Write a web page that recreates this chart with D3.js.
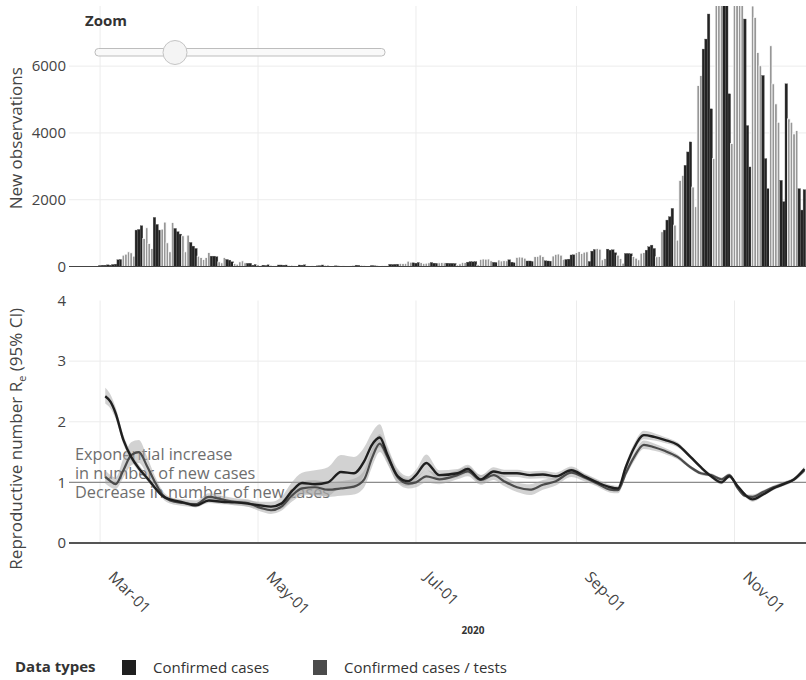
<!DOCTYPE html>
<html>
<head>
<meta charset="utf-8">
<script src="https://cdn.jsdelivr.net/npm/d3@7"></script>
<style>
  html, body { margin: 0; padding: 0; background: #fff; }
  svg { display: block; font-family: "Open Sans", sans-serif; }
</style>
</head>
<body>
<svg id="chart" width="806" height="680"></svg>
<script>
// ---------------- DATA ----------------
const barStart = "2020-03-01";
const barValues = [
  30, 40, 40, 50, 40, 60, 70,
  200, 210, 340, 370, 440, 410, 310,
  1090, 1110, 1220, 840, 1160, 690, 540,
  1470, 1260, 1090, 1120, 1330, 710, 440,
  1320, 1140, 1040, 970, 920, 440, 940,
  720, 610, 540, 310, 270, 210, 270,
  420, 310, 310, 290, 140, 110, 270,
  210, 190, 140, 90, 70, 140, 170,
  110, 95, 97, 40, 60, 55, 30,
  40, 30, 50, 40, 30, 20, 45,
  45, 40, 45, 35, 40, 20, 15,
  45, 40, 50, 30, 15, 20, 15,
  20, 25, 45, 40, 45, 15, 10,
  20, 15, 10, 20, 15, 10, 20,
  15, 40, 35, 40, 35, 15, 10,
  30, 20, 15, 15, 30, 20, 25,
  65, 60, 65, 70, 95, 90, 95,
  160, 130, 110, 100, 120, 115, 95,
  100, 110, 120, 100, 95, 110, 120,
  110, 100, 95, 95, 90, 45, 80,
  125, 120, 130, 145, 140, 145, 50,
  215, 225, 220, 225, 170, 125, 120,
  195, 165, 175, 170, 200, 130, 110,
  275, 285, 280, 250, 165, 165, 150,
  295, 305, 345, 295, 170, 165, 160,
  315, 365, 375, 340, 215, 210, 220,
  345, 350, 420, 445, 390, 430, 440,
  150, 460, 510, 540, 520, 200, 240,
  520, 490, 500, 410, 340, 240, 100,
  390, 390, 380, 300, 250, 200, 400,
  420, 490, 590, 640, 540, 290, 300,
  1040, 1090, 1390, 1490, 1740, 1240, 790,
  2580, 2730, 3030, 3430, 3730, 2380, 1790,
  5420, 5720, 6510, 6810, 7560, 4720, 3230,
  8100, 8600, 9400, 9000, 8800, 5170, 3680,
  10100, 9500, 9800, 8500, 7410, 4220, 2980,
  7800, 7460, 6410, 6010, 5720, 3230, 2330,
  6610, 5470, 4870, 4320, 2580, 1940, 5470,
  4420, 4320, 3970, 4070, 2330, 1690, 2300
];
// 0 = dark bar, 1 = light bar
const barShade = [
  0,0,0,0,0,0,0,
  0,0,1,1,1,1,1,
  0,0,0,1,1,1,1,
  0,0,0,1,1,1,1,
  1,0,0,0,1,1,1,
  0,0,0,1,1,1,1,
  1,0,0,0,1,1,1,
  0,0,0,1,1,1,1,
  1,0,0,0,0,1,1,
  0,0,0,1,1,1,0,
  0,0,0,1,1,1,1,
  0,0,0,1,1,1,1,
  0,0,0,1,1,1,1,
  0,0,0,1,1,1,1,
  0,0,0,1,1,1,1,
  0,0,0,1,1,1,1,
  0,0,0,0,1,1,1,
  1,1,0,0,0,1,1,
  1,1,0,0,0,1,1,
  1,0,0,0,0,1,1,
  1,1,0,0,0,0,1,
  1,1,1,1,1,0,0,
  1,1,1,1,0,0,0,
  1,1,1,1,0,0,0,
  1,1,1,1,0,0,0,
  1,1,1,1,1,0,0,
  0,0,1,1,1,1,1,
  0,0,0,1,1,1,1,
  0,0,0,0,1,1,1,
  0,0,0,1,1,1,1,
  1,0,0,0,0,1,1,
  1,0,0,0,0,1,1,
  1,1,0,0,0,1,1,
  1,1,0,0,0,0,1,
  1,1,1,0,0,0,1,
  1,1,1,1,0,0,0,
  1,1,1,1,0,0,0,
  1,1,1,1,0,0,0,
  1,1,1,1,0,0,0
];

const reDates = [
  "2020-03-03","2020-03-05","2020-03-07","2020-03-10","2020-03-13","2020-03-16","2020-03-19",
  "2020-03-22","2020-03-25","2020-03-28","2020-04-02","2020-04-07","2020-04-12","2020-04-17",
  "2020-04-22","2020-04-27","2020-05-02","2020-05-06","2020-05-10","2020-05-14","2020-05-18",
  "2020-05-23","2020-05-28","2020-06-02","2020-06-07","2020-06-11","2020-06-14","2020-06-17",
  "2020-06-20","2020-06-24","2020-06-28","2020-07-01","2020-07-05","2020-07-10","2020-07-17",
  "2020-07-21","2020-07-26","2020-07-31","2020-08-04","2020-08-09","2020-08-14","2020-08-19",
  "2020-08-24","2020-08-30","2020-09-04","2020-09-09","2020-09-14","2020-09-17","2020-09-20",
  "2020-09-23","2020-09-27","2020-10-01","2020-10-05","2020-10-10","2020-10-15","2020-10-19",
  "2020-10-23","2020-10-27","2020-10-30","2020-11-02","2020-11-05","2020-11-08","2020-11-12",
  "2020-11-16","2020-11-20","2020-11-24","2020-11-28"
];
const reCases = [
  2.42,2.33,2.14,1.70,1.42,1.23,1.08,
  0.92,0.78,0.72,0.67,0.62,0.70,0.68,
  0.67,0.65,0.62,0.60,0.65,0.85,0.99,
  0.97,1.00,1.17,1.15,1.35,1.62,1.74,
  1.45,1.10,1.02,1.12,1.32,1.12,1.15,
  1.22,1.05,1.18,1.15,1.15,1.12,1.13,
  1.10,1.20,1.10,1.00,0.92,0.90,1.25,
  1.55,1.78,1.75,1.70,1.62,1.42,1.25,
  1.10,1.00,1.10,0.95,0.80,0.72,0.80,
  0.90,0.97,1.05,1.22
];
const reCasesLow = [
  2.30,2.22,2.05,1.63,1.36,1.18,1.04,
  0.88,0.75,0.69,0.64,0.59,0.66,0.64,
  0.63,0.60,0.56,0.53,0.56,0.72,0.82,
  0.78,0.78,0.92,0.90,1.12,1.42,1.58,
  1.32,1.00,0.94,1.03,1.20,1.04,1.08,
  1.15,0.98,1.11,1.09,1.09,1.06,1.07,
  1.04,1.14,1.05,0.95,0.88,0.86,1.19,
  1.48,1.71,1.69,1.65,1.58,1.39,1.22,
  1.07,0.97,1.07,0.92,0.77,0.68,0.77,
  0.87,0.94,1.02,1.18
];
const reCasesHigh = [
  2.56,2.45,2.24,1.78,1.49,1.29,1.13,
  0.96,0.81,0.75,0.70,0.66,0.74,0.72,
  0.71,0.70,0.68,0.68,0.76,1.00,1.16,
  1.20,1.25,1.45,1.42,1.58,1.82,1.96,
  1.60,1.22,1.10,1.21,1.46,1.20,1.22,
  1.29,1.12,1.25,1.21,1.21,1.18,1.19,
  1.16,1.26,1.15,1.05,0.96,0.94,1.31,
  1.62,1.85,1.81,1.75,1.66,1.45,1.28,
  1.13,1.03,1.13,0.98,0.83,0.76,0.83,
  0.93,1.00,1.08,1.26
];
const reTests = [
  1.09,1.02,0.97,1.20,1.45,1.50,1.28,
  1.02,0.80,0.70,0.66,0.64,0.76,0.72,
  0.68,0.66,0.58,0.54,0.60,0.78,0.90,
  0.92,0.88,0.90,0.93,1.05,1.40,1.64,
  1.42,1.08,0.98,1.00,1.10,1.05,1.12,
  1.18,1.04,1.12,1.02,0.92,0.88,0.96,
  1.02,1.16,1.08,0.98,0.88,0.87,1.15,
  1.40,1.62,1.58,1.52,1.42,1.25,1.15,
  1.12,1.05,1.12,0.92,0.78,0.76,0.84,
  0.92,0.98,1.05,1.20
];
const reTestsLow = [
  0.98,0.92,0.89,1.08,1.28,1.32,1.14,
  0.93,0.74,0.65,0.61,0.59,0.70,0.66,
  0.62,0.60,0.52,0.48,0.53,0.68,0.78,
  0.80,0.76,0.78,0.80,0.92,1.25,1.50,
  1.30,0.98,0.90,0.92,1.00,0.97,1.05,
  1.10,0.96,1.04,0.94,0.84,0.79,0.88,
  0.95,1.09,1.02,0.93,0.83,0.82,1.09,
  1.33,1.55,1.52,1.47,1.38,1.22,1.12,
  1.09,1.02,1.09,0.89,0.75,0.72,0.81,
  0.89,0.95,1.02,1.16
];
const reTestsHigh = [
  1.20,1.12,1.08,1.40,1.66,1.70,1.44,
  1.12,0.87,0.76,0.72,0.70,0.82,0.78,
  0.74,0.72,0.65,0.61,0.68,0.88,1.02,
  1.04,1.00,1.02,1.06,1.20,1.55,1.80,
  1.55,1.18,1.06,1.08,1.20,1.13,1.20,
  1.26,1.12,1.20,1.10,1.00,0.97,1.04,
  1.09,1.23,1.14,1.04,0.93,0.92,1.21,
  1.47,1.69,1.64,1.57,1.46,1.28,1.18,
  1.15,1.08,1.15,0.95,0.81,0.80,0.87,
  0.95,1.01,1.08,1.24
];

const topTicks = [0, 2000, 4000, 6000];
const bottomTicks = [0, 1, 2, 3, 4];
const xTickDates = ["2020-03-01", "2020-05-01", "2020-07-01", "2020-09-01", "2020-11-01"];
const xDomain = ["2020-02-18", "2020-11-29"];
const legendLabels = ["Confirmed cases", "Confirmed cases / tests"];
const annotations = ["Exponential increase", "in number of new cases", "Decrease in number of new cases"];

// ---------------- CHART ----------------
const parse = d3.utcParse("%Y-%m-%d");
const svg = d3.select("#chart");
const xLeft = 69, xRight = 807;
const top1 = 6, bot1 = 266.5;
const top2 = 300.5, bot2 = 543;

const x = d3.scaleUtc().domain(xDomain.map(parse)).range([xLeft, xRight]);
const y1 = d3.scaleLinear().domain([0, 7800]).range([bot1, top1]);
const y2 = d3.scaleLinear().domain([0, 4]).range([bot2, top2]);

const dark = "#1f1f1f", mid = "#4b4b4b";
const gridColor = "#ececec", tickColor = "#444";

const defs = svg.append("defs");
defs.append("clipPath").attr("id", "clipTop")
  .append("rect").attr("x", xLeft).attr("y", top1).attr("width", xRight - xLeft).attr("height", bot1 - top1);
defs.append("clipPath").attr("id", "clipBot")
  .append("rect").attr("x", xLeft).attr("y", top2 - 10).attr("width", xRight - xLeft).attr("height", bot2 - top2 + 10);

const tickDates = xTickDates.map(parse);

// --- grids
function vgrid(t, b) {
  svg.append("g").selectAll("line").data(tickDates).join("line")
    .attr("x1", d => x(d)).attr("x2", d => x(d)).attr("y1", t).attr("y2", b)
    .attr("stroke", gridColor).attr("stroke-width", 1);
}
vgrid(top1, bot1);
vgrid(top2, bot2);
svg.append("g").selectAll("line").data(topTicks.filter(d => d > 0)).join("line")
  .attr("x1", xLeft).attr("x2", xRight).attr("y1", d => y1(d)).attr("y2", d => y1(d))
  .attr("stroke", gridColor);
svg.append("g").selectAll("line").data(bottomTicks.filter(d => d > 0 && d < 4)).join("line")
  .attr("x1", xLeft).attr("x2", xRight).attr("y1", d => y2(d)).attr("y2", d => y2(d))
  .attr("stroke", gridColor);

// --- bars
const start = parse(barStart);
const barDates = d3.utcDay.range(start, d3.utcDay.offset(start, barValues.length));
const bars = barDates.map((d, i) => ({ date: d, v: barValues[i], s: barShade[i] }));
const bw = x(d3.utcDay.offset(start, 1)) - x(start);
svg.append("g").attr("clip-path", "url(#clipTop)")
  .selectAll("rect").data(bars).join("rect")
  .attr("x", d => x(d.date) - bw / 2)
  .attr("width", bw)
  .attr("y", d => y1(d.v))
  .attr("height", d => y1(0) - y1(d.v))
  .attr("fill", d => d.s ? "#979797" : "#232323")
  .attr("stroke", d => d.s ? "#ffffff" : "#5a5a5a")
  .attr("stroke-width", d => d.s ? 0.8 : 0.35);

// zero line top
svg.append("line").attr("x1", xLeft).attr("x2", xRight).attr("y1", y1(0)).attr("y2", y1(0))
  .attr("stroke", "#444").attr("stroke-width", 1);

// y axis top
const ay1 = svg.append("g").attr("transform", `translate(${xLeft},0)`)
  .call(d3.axisLeft(y1).tickValues(topTicks).tickSize(0).tickPadding(3).tickFormat(d3.format("d")));
ay1.select(".domain").remove();
ay1.selectAll("text").attr("font-size", 15).attr("fill", tickColor).attr("font-family", "Open Sans");

svg.append("text").attr("transform", `translate(22,${(top1 + bot1) / 2 + 2}) rotate(-90)`)
  .attr("text-anchor", "middle").attr("font-size", 17).attr("fill", tickColor)
  .text("New observations");

// zoom slider
svg.append("text").attr("x", 85).attr("y", 26).attr("font-size", 15).attr("font-weight", "bold")
  .attr("fill", "#333").text("Zoom");
svg.append("rect").attr("x", 95).attr("y", 48.5).attr("width", 290).attr("height", 7.5)
  .attr("rx", 3.5).attr("fill", "#f9f9f9").attr("stroke", "#bdbdbd").attr("stroke-width", 1);
svg.append("circle").attr("cx", 175).attr("cy", 52.5).attr("r", 12)
  .attr("fill", "#f4f4f4").attr("stroke", "#c4c4c4").attr("stroke-width", 1);

// --- bottom panel
// annotation texts (under bands)
const ann = svg.append("g").attr("font-size", 16.3).attr("fill", "#6e6e6e");
ann.append("text").attr("x", 75).attr("y", 460).text(annotations[0]);
ann.append("text").attr("x", 75).attr("y", 479).text(annotations[1]);
ann.append("text").attr("x", 75).attr("y", 497.5).text(annotations[2]);

// reference line at 1
svg.append("line").attr("x1", xLeft).attr("x2", xRight).attr("y1", y2(1)).attr("y2", y2(1))
  .attr("stroke", "#8c8c8c").attr("stroke-width", 1.3);

const reD = reDates.map(parse);
const seriesA = reD.map((d, i) => ({ date: d, v: reCases[i], lo: reCasesLow[i], hi: reCasesHigh[i] }));
const seriesB = reD.map((d, i) => ({ date: d, v: reTests[i], lo: reTestsLow[i], hi: reTestsHigh[i] }));

const area = d3.area().x(d => x(d.date)).y0(d => y2(d.lo)).y1(d => y2(d.hi)).curve(d3.curveMonotoneX);
const line = d3.line().x(d => x(d.date)).y(d => y2(d.v)).curve(d3.curveMonotoneX);

const gb = svg.append("g").attr("clip-path", "url(#clipBot)");
gb.append("path").datum(seriesA).attr("d", area).attr("fill", "#a6a6a6").attr("fill-opacity", 0.5);
gb.append("path").datum(seriesB).attr("d", area).attr("fill", "#a6a6a6").attr("fill-opacity", 0.5);
gb.append("path").datum(seriesB).attr("d", line).attr("fill", "none").attr("stroke", mid).attr("stroke-width", 2.2);
gb.append("path").datum(seriesA).attr("d", line).attr("fill", "none").attr("stroke", dark).attr("stroke-width", 2.4);

// zero line bottom
svg.append("line").attr("x1", xLeft).attr("x2", xRight).attr("y1", y2(0)).attr("y2", y2(0))
  .attr("stroke", "#555").attr("stroke-width", 2);

const ay2 = svg.append("g").attr("transform", `translate(${xLeft},0)`)
  .call(d3.axisLeft(y2).tickValues(bottomTicks).tickSize(0).tickPadding(3).tickFormat(d3.format("d")));
ay2.select(".domain").remove();
ay2.selectAll("text").attr("font-size", 15).attr("fill", tickColor).attr("font-family", "Open Sans");

const t2 = svg.append("text").attr("transform", `translate(22,${(top2 + bot2) / 2 + 17}) rotate(-90)`)
  .attr("text-anchor", "middle").attr("font-size", 17).attr("fill", tickColor);
t2.append("tspan").text("Reproductive number R");
t2.append("tspan").attr("font-size", 11).attr("dy", 4).text("e");
t2.append("tspan").attr("dy", -4).text(" (95% CI)");

// x axis
const ax = svg.append("g").attr("transform", `translate(0,${bot2})`)
  .call(d3.axisBottom(x).tickValues(tickDates).tickSize(0).tickFormat(d3.utcFormat("%b-%d")));
ax.select(".domain").remove();
ax.selectAll("text")
  .attr("x", 0).attr("y", 0).attr("dy", 0)
  .attr("transform", "translate(7,35) rotate(45)")
  .attr("text-anchor", "start")
  .attr("font-size", 15.5).attr("fill", tickColor).attr("font-family", "Open Sans");

svg.append("text").attr("x", 473).attr("y", 634).attr("text-anchor", "middle")
  .attr("font-size", 10).attr("font-weight", "bold").attr("fill", "#333").text("2020");

// legend
const lg = svg.append("g");
lg.append("text").attr("x", 15).attr("y", 672).attr("font-size", 15).attr("font-weight", "bold")
  .attr("fill", "#333").text("Data types");
const legendColors = [dark, mid];
const legendX = [122, 313];
legendLabels.forEach((lab, i) => {
  lg.append("rect").attr("x", legendX[i]).attr("y", 660).attr("width", 14).attr("height", 15)
    .attr("fill", legendColors[i]);
  lg.append("text").attr("x", legendX[i] + 31).attr("y", 673).attr("font-size", 15)
    .attr("fill", "#333").text(lab);
});
</script>
</body>
</html>
